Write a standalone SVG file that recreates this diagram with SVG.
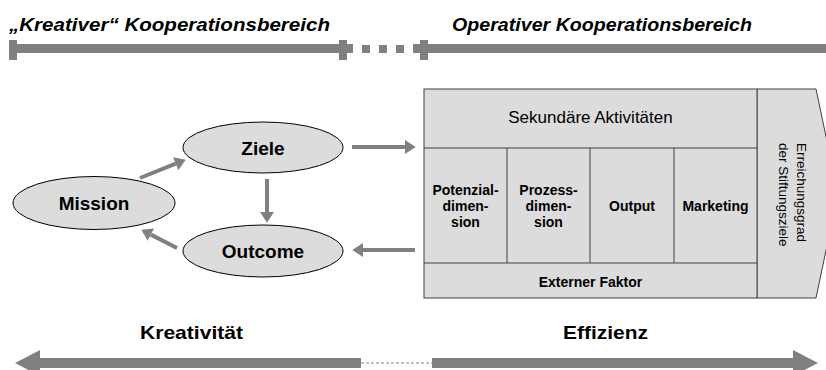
<svg xmlns="http://www.w3.org/2000/svg" width="826" height="370" viewBox="0 0 826 370">
<style>
.bar{fill:#808080}
.hdr{font-family:"Liberation Sans",Arial,sans-serif;font-weight:bold;font-style:italic;font-size:19px;fill:#000}
.lbl{font-family:"Liberation Sans",Arial,sans-serif;font-weight:bold;font-size:19px;fill:#000}
.ell{fill:#dcdcdc;stroke:#000;stroke-width:1}
.box{fill:#dcdcdc;stroke:#404040;stroke-width:1}
.cell{font-family:"Liberation Sans",Arial,sans-serif;font-weight:bold;font-size:14px;fill:#000;text-anchor:middle}
.reg{font-family:"Liberation Sans",Arial,sans-serif;font-size:17px;fill:#000;text-anchor:middle}
.vert{font-family:"Liberation Sans",Arial,sans-serif;font-size:13.5px;fill:#000}
.arr{stroke:#808080;stroke-width:4;fill:none;marker-end:url(#ah)}
</style>
<defs>
<marker id="ah" markerUnits="userSpaceOnUse" markerWidth="11" markerHeight="14" viewBox="0 0 10 13" refX="0" refY="6.5" orient="auto">
<path d="M0,0 L10,6.5 L0,13 z" fill="#808080"/>
</marker>
</defs>

<g id="header-kreativ">
<text class="hdr" x="9" y="31" textLength="321" lengthAdjust="spacingAndGlyphs">„Kreativer“ Kooperationsbereich</text>
<rect class="bar" x="9" y="44" width="344" height="9"/>
<rect class="bar" x="9" y="40" width="8" height="20"/>
<rect class="bar" x="339" y="40" width="8" height="20"/>
</g>
<g id="header-dots">
<rect class="bar" x="362" y="45" width="8" height="8"/>
<rect class="bar" x="379" y="45" width="8" height="8"/>
<rect class="bar" x="396" y="45" width="8" height="8"/>
</g>
<g id="header-operativ">
<text class="hdr" x="452" y="31" textLength="300" lengthAdjust="spacingAndGlyphs">Operativer Kooperationsbereich</text>
<rect class="bar" x="413" y="44" width="413" height="9"/>
<rect class="bar" x="420" y="40" width="8" height="20"/>
</g>

<g id="mission">
<ellipse class="ell" cx="94" cy="203" rx="81" ry="26.5"/>
<text class="lbl" x="94" y="210" text-anchor="middle">Mission</text>
</g>
<g id="ziele">
<ellipse class="ell" cx="263" cy="147.5" rx="80" ry="25.5"/>
<text class="lbl" x="263" y="155" text-anchor="middle">Ziele</text>
</g>
<g id="outcome">
<ellipse class="ell" cx="263" cy="251" rx="80" ry="26"/>
<text class="lbl" x="263" y="258" text-anchor="middle">Outcome</text>
</g>

<g id="wertkette">
<polygon class="box" points="757,89 816,89 838,193.5 816,298 757,298"/>
<rect class="box" x="424" y="89" width="333" height="209"/>
<line x1="424" y1="148" x2="757" y2="148" stroke="#404040"/>
<line x1="424" y1="263" x2="757" y2="263" stroke="#404040"/>
<line x1="507" y1="148" x2="507" y2="263" stroke="#404040"/>
<line x1="590" y1="148" x2="590" y2="263" stroke="#404040"/>
<line x1="674" y1="148" x2="674" y2="263" stroke="#404040"/>
<text class="reg" x="590.5" y="123">Sekundäre Aktivitäten</text>
<text class="cell" x="465.5" y="195">Potenzial-</text>
<text class="cell" x="465.5" y="211">dimen-</text>
<text class="cell" x="465.5" y="227">sion</text>
<text class="cell" x="548.5" y="195">Prozess-</text>
<text class="cell" x="548.5" y="211">dimen-</text>
<text class="cell" x="548.5" y="227">sion</text>
<text class="cell" x="632" y="211">Output</text>
<text class="cell" x="715.5" y="211">Marketing</text>
<text class="cell" x="590.5" y="287">Externer Faktor</text>
<text class="vert" transform="translate(797,143) rotate(90)">Erreichungsgrad</text>
<text class="vert" transform="translate(779,143) rotate(90)">der Stiftungsziele</text>
</g>

<g id="connectors">
<line class="arr" x1="140" y1="178" x2="175.7" y2="163.7"/>
<line class="arr" x1="267" y1="179" x2="267" y2="212"/>
<line class="arr" x1="177" y1="248" x2="150.9" y2="234.6"/>
<line class="arr" x1="352" y1="147" x2="405" y2="147"/>
<line class="arr" x1="415" y1="250" x2="363" y2="250"/>
</g>

<g id="axis">
<text class="lbl" x="191.5" y="339" text-anchor="middle" textLength="103" lengthAdjust="spacingAndGlyphs">Kreativität</text>
<text class="lbl" x="605.5" y="339" text-anchor="middle" textLength="85" lengthAdjust="spacingAndGlyphs">Effizienz</text>
<polygon class="bar" points="15,363 40,350 40,358 361,358 361,368 40,368 40,376"/>
<polygon class="bar" points="818,363 793,350 793,358 432,358 432,368 793,368 793,376"/>
<line x1="361" y1="363" x2="432" y2="363" stroke="#b0b0b0" stroke-width="1.5" stroke-dasharray="3 2"/>
</g>
</svg>
